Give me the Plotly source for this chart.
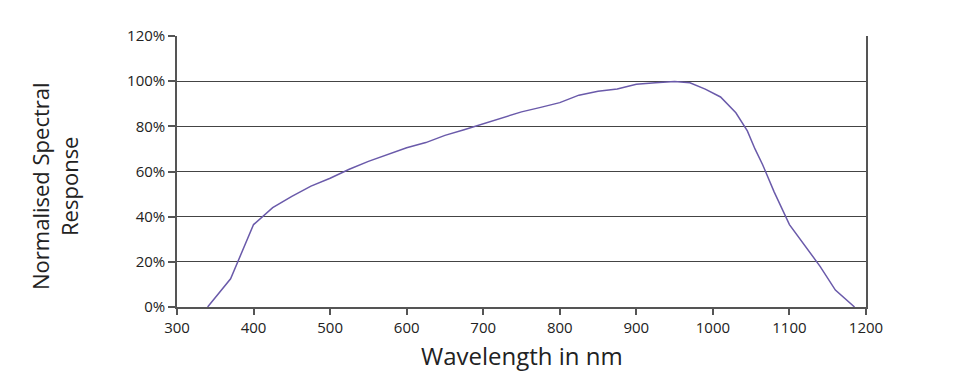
import plotly.graph_objects as go

wavelength_nm = [340, 370, 400, 425, 450, 475, 500, 525, 550, 575, 600, 625, 650, 675,
                 700, 725, 750, 775, 800, 825, 850, 875, 900, 925, 950, 970, 990, 1010,
                 1030, 1045, 1055, 1065, 1080, 1100, 1120, 1140, 1160, 1185]
response = [0.0, 0.125, 0.365, 0.44, 0.49, 0.535, 0.57, 0.61, 0.645, 0.675, 0.705, 0.728,
            0.76, 0.785, 0.812, 0.838, 0.864, 0.884, 0.905, 0.938, 0.955, 0.965, 0.986,
            0.993, 0.998, 0.993, 0.965, 0.93, 0.86, 0.78, 0.70, 0.63, 0.51, 0.365, 0.27,
            0.18, 0.075, 0.0]

x_ticks = [300, 400, 500, 600, 700, 800, 900, 1000, 1100, 1200]
y_ticks = [0, 0.2, 0.4, 0.6, 0.8, 1.0, 1.2]

font_family = "'Open Sans', Lato, sans-serif"

# page has 8px body margin; target plot area (page px): x 177..866, y 36..307
OFF = 8
W, H = 943, 374
L, T = 177 - OFF, 36 - OFF
R = (OFF + W) - 866
B = (OFF + H) - 307
PW, PH = W - L - R, H - T - B


def px_x(page_x):
    return (page_x - OFF - L) / PW


def px_y(page_y):
    return 1 - (page_y - OFF - T) / PH


fig = go.Figure()
fig.add_trace(go.Scatter(x=wavelength_nm, y=response, mode="lines",
                         line=dict(color="#6a5aaa", width=1.5), showlegend=False))

fig.update_layout(
    width=W, height=H,
    margin=dict(l=L, r=R, t=T, b=B, autoexpand=False),
    paper_bgcolor="white", plot_bgcolor="white",
    font=dict(family=font_family, color="#222"),
)
fig.update_xaxes(
    range=[300, 1200], tickvals=x_ticks, showgrid=False,
    showline=True, linecolor="#555", linewidth=1.5,
    ticks="outside", ticklen=6, tickcolor="#555", tickwidth=1.5,
    tickfont=dict(size=15, color="#222"), automargin=False,
    zeroline=False,
)
fig.update_yaxes(
    range=[0, 1.2], tickvals=y_ticks, tickformat=".0%",
    showgrid=True, gridcolor="#444", gridwidth=1.2,
    showline=True, linecolor="#555", linewidth=1.5, mirror=True,
    ticks="outside", ticklen=7, tickcolor="#555", tickwidth=1.5,
    tickfont=dict(size=15, color="#222"), automargin=False,
    zeroline=False,
)

fig.add_annotation(text="Wavelength in nm", xref="paper", yref="paper",
                   x=px_x(522), y=px_y(355),
                   xanchor="center", yanchor="middle", showarrow=False,
                   font=dict(size=24, color="#222"))
fig.add_annotation(text="Normalised Spectral<br>Response", xref="paper", yref="paper",
                   x=px_x(54), y=px_y(186),
                   xanchor="center", yanchor="middle", showarrow=False, textangle=-90,
                   font=dict(size=22, color="#222"))

fig.write_html("out.html")
